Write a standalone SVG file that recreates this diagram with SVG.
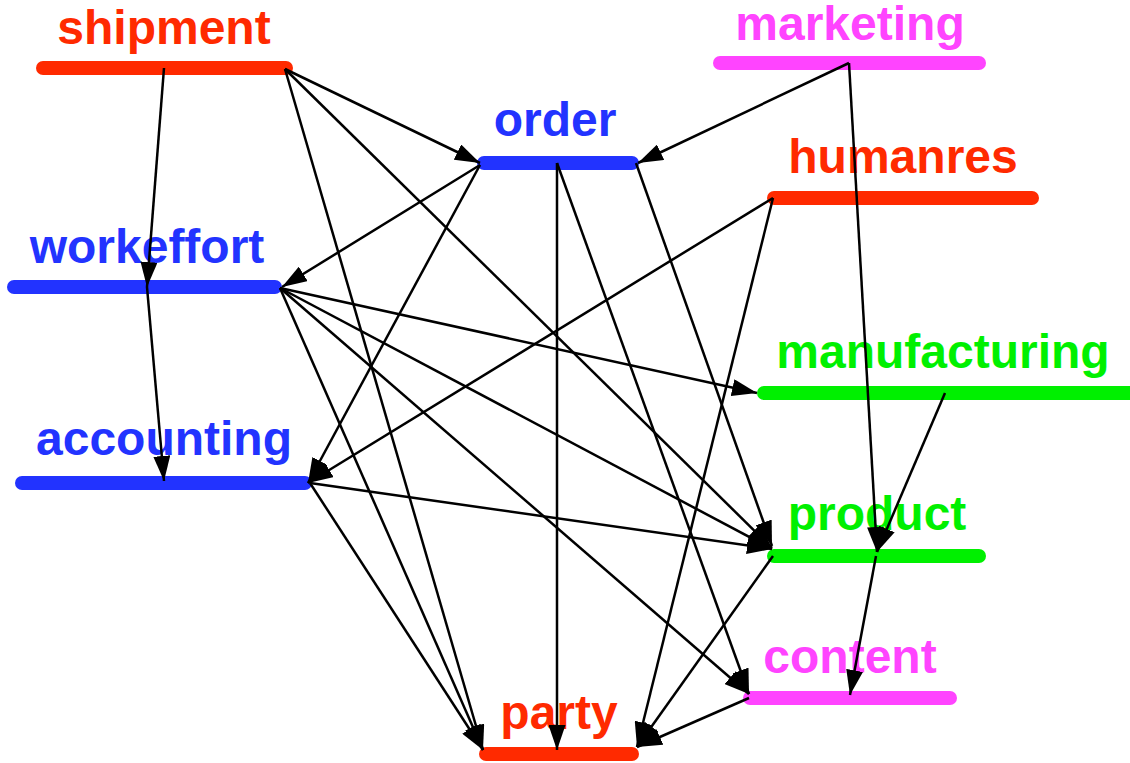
<svg xmlns="http://www.w3.org/2000/svg" width="1130" height="763" viewBox="0 0 1130 763">
<defs>
<marker id="ah" markerUnits="userSpaceOnUse" markerWidth="25" markerHeight="17" refX="25" refY="8.5" orient="auto" viewBox="0 0 25 17">
<path d="M0,0 L25,8.5 L0,17 z" fill="#000"/>
</marker>
</defs>
<style>
.bar{stroke-width:14;stroke-linecap:round;fill:none}
.lbl{font-family:"Liberation Sans",Arial,sans-serif;font-weight:bold;font-size:48px;text-anchor:middle}
.red .bar{stroke:#ff2a00}.red text{fill:#ff2a00}
.blue .bar{stroke:#2233ff}.blue text{fill:#2233ff}
.green .bar{stroke:#00f000}.green text{fill:#00f000}
.mag .bar{stroke:#ff44ff}.mag text{fill:#ff44ff}
#edges line{stroke:#000;stroke-width:2.5;marker-end:url(#ah)}
</style>
<rect width="1130" height="763" fill="#fff"/>
<g id="shipment" class="red"><line class="bar" x1="43" y1="68" x2="286" y2="68"/><text class="lbl" x="164" y="44">shipment</text></g>
<g id="workeffort" class="blue"><line class="bar" x1="14" y1="287" x2="275" y2="287"/><text class="lbl" x="147" y="263">workeffort</text></g>
<g id="accounting" class="blue"><line class="bar" x1="22" y1="483" x2="305" y2="483"/><text class="lbl" x="164" y="455">accounting</text></g>
<g id="order" class="blue"><line class="bar" x1="484" y1="163" x2="632" y2="163"/><text class="lbl" x="555" y="136">order</text></g>
<g id="marketing" class="mag"><line class="bar" x1="720" y1="63" x2="979" y2="63"/><text class="lbl" x="850" y="40">marketing</text></g>
<g id="humanres" class="red"><line class="bar" x1="774" y1="198" x2="1032" y2="198"/><text class="lbl" x="903" y="173">humanres</text></g>
<g id="manufacturing" class="green"><line class="bar" x1="764" y1="393" x2="1135" y2="393"/><text class="lbl" x="943" y="368">manufacturing</text></g>
<g id="product" class="green"><line class="bar" x1="774" y1="556" x2="979" y2="556"/><text class="lbl" x="877" y="530">product</text></g>
<g id="content" class="mag"><line class="bar" x1="750" y1="698" x2="950" y2="698"/><text class="lbl" x="850" y="673">content</text></g>
<g id="party" class="red"><line class="bar" x1="486" y1="754" x2="632" y2="754"/><text class="lbl" x="559" y="729">party</text></g>
<g id="edges">
<line x1="164" y1="68" x2="147" y2="287"/>
<line x1="285" y1="69" x2="480" y2="163"/>
<line x1="285" y1="69" x2="772" y2="548"/>
<line x1="285" y1="69" x2="483" y2="750"/>
<line x1="147" y1="287" x2="164" y2="481"/>
<line x1="280" y1="288" x2="757" y2="393"/>
<line x1="280" y1="288" x2="772" y2="549"/>
<line x1="280" y1="288" x2="749" y2="694"/>
<line x1="280" y1="288" x2="483" y2="750"/>
<line x1="480" y1="165" x2="282" y2="287"/>
<line x1="480" y1="165" x2="308" y2="483"/>
<line x1="557" y1="163" x2="557" y2="750"/>
<line x1="557" y1="163" x2="749" y2="694"/>
<line x1="636" y1="163" x2="772" y2="546"/>
<line x1="849" y1="63" x2="638" y2="163"/>
<line x1="849" y1="63" x2="877" y2="552"/>
<line x1="773" y1="198" x2="308" y2="483"/>
<line x1="773" y1="198" x2="637" y2="747"/>
<line x1="945" y1="393" x2="877" y2="552"/>
<line x1="310" y1="483" x2="772" y2="549"/>
<line x1="310" y1="483" x2="483" y2="750"/>
<line x1="876" y1="556" x2="850" y2="695"/>
<line x1="773" y1="556" x2="637" y2="747"/>
<line x1="749" y1="698" x2="637" y2="747"/>
</g>
</svg>
